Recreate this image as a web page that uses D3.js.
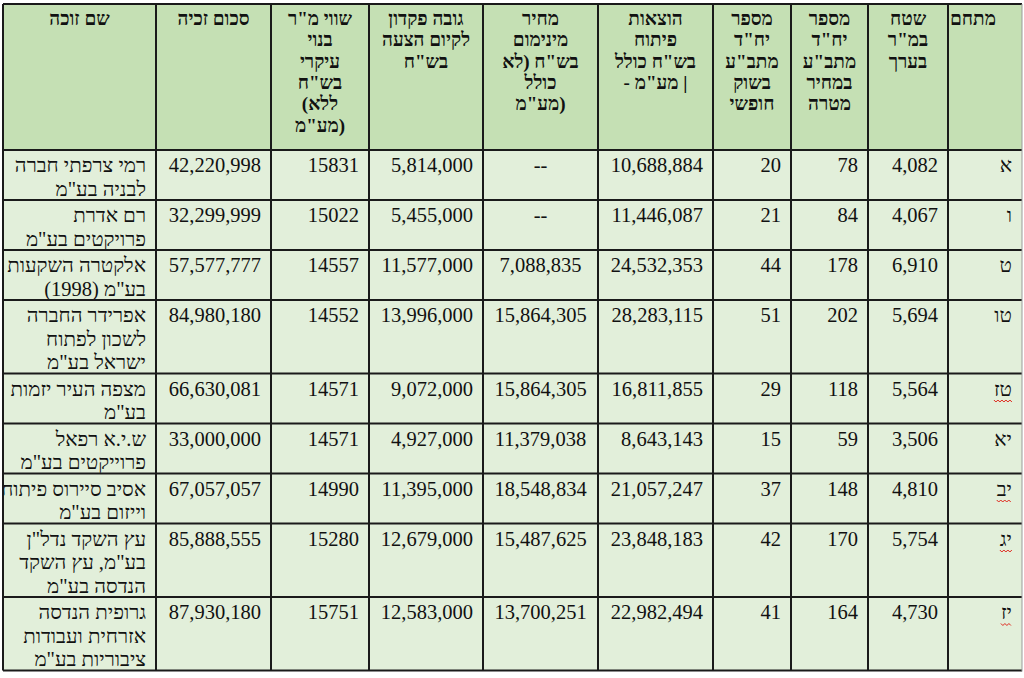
<!DOCTYPE html>
<html lang="he">
<head>
<meta charset="utf-8">
<script src="https://cdn.jsdelivr.net/npm/d3@7"></script>
<style>
  body { margin: 0; background: #fff; }
  svg text { font-family: 'Liberation Serif', 'Times New Roman', 'DejaVu Sans', serif; fill: #111; }
</style>
</head>
<body>
<svg id="chart" width="1024" height="678"></svg>
<script>
// Table data (one entry per compound, visual order top to bottom)
const compounds = ['א', 'ו', 'ט', 'טו', 'טז', 'יא', 'יב', 'יג', 'יז']
const areas = [4082, 4067, 6910, 5694, 5564, 3506, 4810, 5754, 4730]
const targetUnits = [78, 84, 178, 202, 118, 59, 148, 170, 164]
const freeUnits = [20, 21, 44, 51, 29, 15, 37, 42, 41]
const devCosts = [10688884, 11446087, 24532353, 28283115, 16811855, 8643143, 21057247, 23848183, 22982494]
const minPrices = [null, null, 7088835, 15864305, 15864305, 11379038, 18548834, 15487625, 13700251]
const deposits = [5814000, 5455000, 11577000, 13996000, 9072000, 4927000, 11395000, 12679000, 12583000]
const sqmValues = [15831, 15022, 14557, 14552, 14571, 14571, 14990, 15280, 15751]
const winAmounts = [42220998, 32299999, 57577777, 84980180, 66630081, 33000000, 67057057, 85888555, 87930180]
const winners = [
  ['רמי צרפתי חברה', 'לבניה בע"מ'],
  ['רם אדרת', 'פרויקטים בע"מ'],
  ['אלקטרה השקעות', 'בע"מ (1998)'],
  ['אפרידר החברה', 'לשכון לפתוח', 'ישראל בע"מ'],
  ['מצפה העיר יזמות', 'בע"מ'],
  ['ש.י.א רפאל', 'פרוייקטים בע"מ'],
  ['אסיב סיירוס פיתוח', 'וייזום בע"מ'],
  ['עץ השקד נדל"ן', 'בע"מ, עץ השקד', 'הנדסה בע"מ'],
  ['גרופית הנדסה', 'אזרחית ועבודות', 'ציבוריות בע"מ']
]
// compound labels that carry a spell-check squiggle in the source document
const squiggly = ['טז', 'יב', 'יג', 'יז']

// Header labels, left to right as they appear on the page
const headers = [
  ['שם זוכה'],
  ['סכום זכיה'],
  ['שווי מ"ר', 'בנוי', 'עיקרי', 'בש"ח', '(ללא', 'מע"מ)'],
  ['גובה פקדון', 'לקיום הצעה', 'בש"ח'],
  ['מחיר', 'מינימום', 'בש"ח (לא', 'כולל', 'מע"מ)'],
  ['הוצאות', 'פיתוח', 'בש"ח כולל', '- מע"מ |'],
  ['מספר', 'יח"ד', 'מתב"ע', 'בשוק', 'חופשי'],
  ['מספר', 'יח"ד', 'מתב"ע', 'במחיר', 'מטרה'],
  ['שטח', 'במ"ר', 'בערך'],
  ['מתחם']
]

const comma = d3.format(',')
const plain = d3.format('d')

// Column layout: how each column gets its text and how it is aligned
const columns = [
  { cell: i => winners[i], align: 'right' },
  { cell: i => [comma(winAmounts[i])], align: 'right' },
  { cell: i => [plain(sqmValues[i])], align: 'right' },
  { cell: i => [comma(deposits[i])], align: 'right' },
  { cell: i => [minPrices[i] == null ? '--' : comma(minPrices[i])], align: 'center' },
  { cell: i => [comma(devCosts[i])], align: 'right' },
  { cell: i => [plain(freeUnits[i])], align: 'right' },
  { cell: i => [plain(targetUnits[i])], align: 'right' },
  { cell: i => [comma(areas[i])], align: 'right' },
  { cell: i => [compounds[i]], align: 'right' }
]
const colWidths = [153, 115, 98, 114, 115, 115, 78, 77, 80, 74]

const x0 = 3, y0 = 4
const headerH = 146
const lineH = 23.5
const headLineH = 21.3
const pad = 10

const colX = [x0, ...d3.cumsum(colWidths).map(d => d + x0)]
const rows = compounds.map((c, i) => columns.map(col => col.cell(i)))
const rowH = rows.map(r => d3.max(r, lines => lines.length) * lineH + 3)
const rowY = [y0 + headerH, ...d3.cumsum(rowH).map(d => d + y0 + headerH)]
const tableW = colX[colX.length - 1] - x0
const tableBottom = rowY[rowY.length - 1]

const svg = d3.select('#chart')
svg.append('rect').attr('width', 1024).attr('height', 678).attr('fill', '#fff')

// Header band
svg.append('rect')
  .attr('x', x0).attr('y', y0)
  .attr('width', tableW).attr('height', headerH)
  .attr('fill', '#c5e0b4')

// Body rows
svg.append('g').selectAll('rect')
  .data(rows)
  .join('rect')
  .attr('x', x0)
  .attr('y', (d, i) => rowY[i])
  .attr('width', tableW)
  .attr('height', (d, i) => rowH[i])
  .attr('fill', '#e2efda')

const textX = (j, align) => align === 'center'
  ? (colX[j] + colX[j + 1]) / 2
  : colX[j + 1] - pad
// the last header sits a little left of centre in the source
const headX = j => (colX[j] + colX[j + 1]) / 2 - (j === headers.length - 1 ? 12 : 0)

// Header text (centred cells, left-to-right paragraphs as in the document)
const head = svg.append('g')
  .attr('font-weight', 'bold')
  .attr('font-size', 19)
head.selectAll('text')
  .data(headers)
  .join('text')
  .attr('text-anchor', 'middle')
  .each(function (lines, j) {
    d3.select(this).selectAll('tspan')
      .data(lines)
      .join('tspan')
      .attr('x', headX(j))
      .attr('y', (l, k) => y0 + 21 + k * headLineH)
      .text(l => l)
  })

// Body text
const body = svg.append('g').attr('font-size', 20.5)
rows.forEach((row, i) => {
  body.append('g')
    .selectAll('text')
    .data(row)
    .join('text')
    .attr('class', (d, j) => j === columns.length - 1 ? 'compound' : null)
    .attr('direction', 'rtl')
    .attr('text-anchor', (d, j) => columns[j].align === 'center' ? 'middle' : 'start')
    .each(function (lines, j) {
      const x = textX(j, columns[j].align)
      d3.select(this).selectAll('tspan')
        .data(lines)
        .join('tspan')
        .attr('x', x)
        .attr('y', (l, k) => rowY[i] + 22 + k * lineH)
        .text(l => l)
    })
})

// Red wavy underline under the flagged compound labels
body.selectAll('text.compound')
  .filter(function () { return squiggly.includes(this.textContent) })
  .each(function () {
    const b = this.getBBox()
    const yy = b.y + b.height + 1
    const pts = d3.range(b.x, b.x + b.width + 0.1, 2)
      .map((xx, k) => [xx, yy + (k % 2 ? 1.5 : -0.5)])
    svg.append('path')
      .attr('d', d3.line()(pts))
      .attr('fill', 'none')
      .attr('stroke', '#e0261b')
      .attr('stroke-width', 1)
  })

// Grid lines
const grid = svg.append('g').attr('stroke', '#1a1a1a').attr('stroke-width', 2)
grid.selectAll('line.h')
  .data(rowY.concat([y0]))
  .join('line')
  .attr('class', 'h')
  .attr('x1', x0).attr('x2', x0 + tableW)
  .attr('y1', d => d).attr('y2', d => d)
grid.selectAll('line.v')
  .data(colX.slice(0, -1))
  .join('line')
  .attr('class', 'v')
  .attr('x1', d => d).attr('x2', d => d)
  .attr('y1', y0).attr('y2', tableBottom)
// right edge is faint in the source scan
svg.append('line')
  .attr('x1', colX[colX.length - 1]).attr('x2', colX[colX.length - 1])
  .attr('y1', y0).attr('y2', tableBottom + 1)
  .attr('stroke', '#9a9a9a').attr('stroke-width', 1)
</script>
</body>
</html>
